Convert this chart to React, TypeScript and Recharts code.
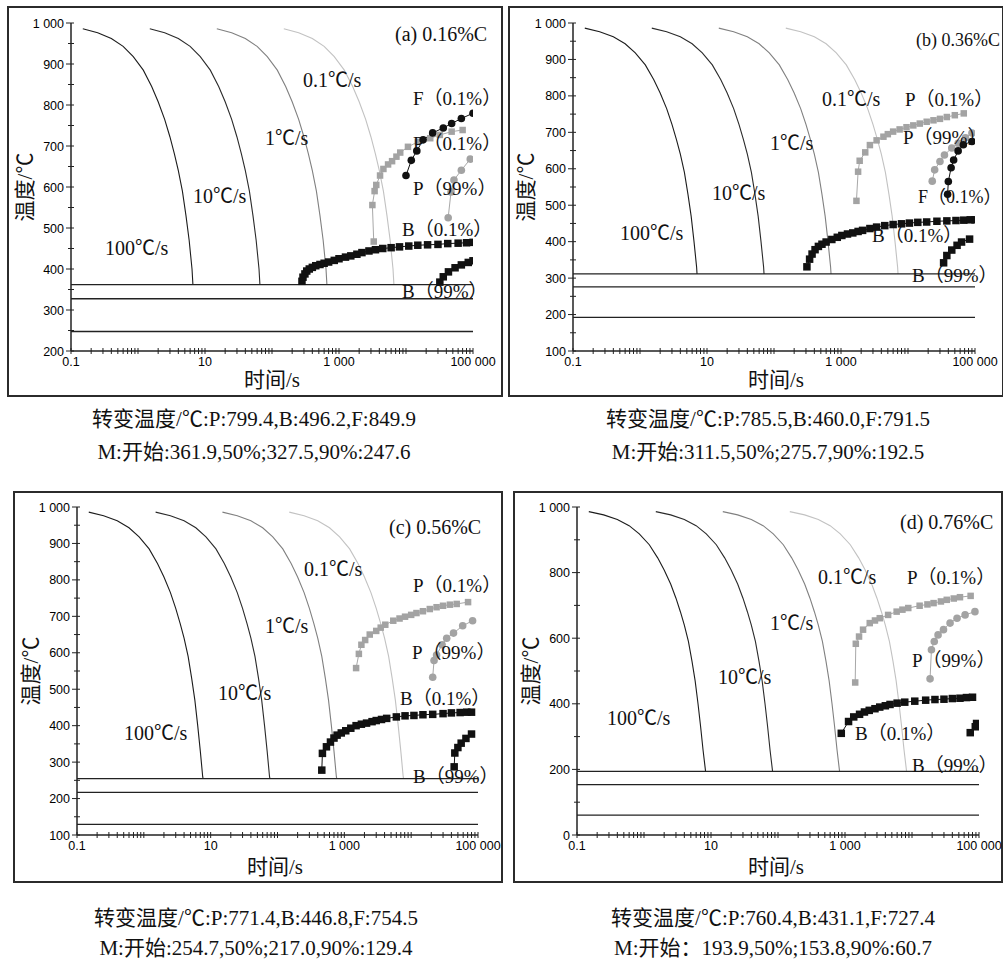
import { ComposedChart, Line, XAxis, YAxis, ReferenceLine } from 'recharts'

// cooling curves, same shape in all four panels (T in °C, t in s)
const COOL_TEMPS = [986, 976, 962, 943, 918, 885, 845, 808, 765, 722, 680, 640, 590, 530, 470, 400, 330, 260, 193]
const COOL_100 = [0.15, 0.25, 0.4, 0.6, 0.85, 1.2, 1.6, 2.0, 2.5, 3.0, 3.5, 4.0, 4.6, 5.2, 5.8, 6.4, 7.0, 7.6, 8.3]
const COOL_10 = [1.5, 2.5, 4, 6, 8.5, 12, 16, 20, 25, 30, 35, 40, 46, 52, 58, 64, 70, 76, 83]
const COOL_1 = [15, 25, 40, 60, 85, 120, 160, 200, 250, 300, 350, 400, 460, 520, 580, 640, 700, 760, 830]
const COOL_01 = [150, 250, 400, 600, 850, 1200, 1600, 2000, 2500, 3000, 3500, 4000, 4600, 5200, 5800, 6400, 7000, 7600, 8300]
const COOL_COLORS = ['#1c1c1c', '#2a2a2a', '#808080', '#c2c2c2']

const X_MAJOR = [0.1, 10, 1000, 100000]
const X_LABELS = ['0.1', '10', '1 000', '100 000']
const DECADES = [0.1, 1, 10, 100, 1000, 10000]

// (a) 0.16%C
const A_MS = [361.9, 327.5, 247.6]
const A_END = [6.6, 66, 660, 6600]
const A_F01_t = [10000, 12000, 14500, 18000, 25000, 36000, 48000, 67000, 100000]
const A_F01_T = [628, 665, 688, 715, 732, 744, 755, 767, 780]
const A_P01_t = [3300, 3150, 3400, 3600, 4100, 4600, 5400, 6200, 7200, 8200, 10700, 15000, 23000, 32000, 48000, 70000]
const A_P01_T = [467, 556, 590, 605, 628, 644, 655, 663, 674, 684, 698, 710, 719, 727, 735, 739]
const A_P99_t = [42600, 47000, 52000, 67000, 91000]
const A_P99_T = [525, 588, 617, 641, 668]
const A_B01_t = [280, 290, 310, 330, 360, 400, 450, 520, 600, 700, 850, 1000, 1250, 1500, 1850, 2200, 2800, 3500, 4500, 6000, 8000, 11000, 15000, 21000, 30000, 42000, 60000, 80000, 100000]
const A_B01_T = [370, 380, 388, 395, 400, 404, 408, 411, 414, 417, 421, 425, 429, 432, 436, 440, 444, 447, 450, 452, 454, 456, 458, 459, 460, 462, 463, 464, 465]
const A_B99_t = [32000, 36000, 43000, 54000, 67000, 85000, 100000]
const A_B99_T = [368, 381, 393, 403, 410, 416, 420]

// (b) 0.36%C
const B_MS = [311.5, 275.7, 192.5]
const B_END = [7.1, 71, 710, 7100]
const B_F01_t = [39000, 40000, 44000, 48000, 56000, 67000, 90000]
const B_F01_T = [530, 565, 603, 624, 649, 666, 675]
const B_P01_t = [1700, 1800, 1900, 2300, 2700, 3400, 4300, 5000, 6000, 7500, 9500, 12000, 15000, 19000, 24000, 30000, 38000, 50000, 68000]
const B_P01_T = [512, 592, 622, 645, 665, 678, 688, 695, 702, 708, 714, 719, 724, 729, 733, 737, 742, 747, 752]
const B_P99_t = [23000, 25000, 30000, 35000, 45000, 56000, 72000, 90000]
const B_P99_T = [566, 597, 620, 638, 657, 670, 685, 698]
const B_B01_t = [310, 340, 370, 410, 460, 520, 600, 730, 880, 1030, 1250, 1500, 1800, 2100, 2700, 3400, 4500, 6000, 8000, 10500, 14000, 19000, 27000, 38000, 52000, 68000, 85000, 100000]
const B_B01_T = [331, 352, 366, 378, 387, 393, 399, 406, 412, 417, 421, 424, 428, 431, 436, 440, 444, 447, 449, 451, 453, 454, 456, 457, 458, 459, 460, 460]
const B_B99_t = [34000, 38000, 45000, 54000, 63000, 83000]
const B_B99_T = [342, 362, 377, 390, 399, 407]

// (c) 0.56%C
const C_MS = [254.7, 217.0, 129.4]
const C_END = [7.7, 77, 770, 7700]
const C_P01_t = [1500, 1650, 1800, 2050, 2400, 3000, 3500, 4100, 5400, 6700, 8100, 10000, 12000, 15000, 19000, 24000, 30000, 38000, 48000, 71000]
const C_P01_T = [558, 597, 622, 635, 650, 660, 669, 677, 688, 694, 699, 704, 709, 714, 720, 725, 729, 732, 734, 739]
const C_P99_t = [21000, 22000, 24000, 29000, 34000, 43000, 59000, 83000]
const C_P99_T = [533, 579, 594, 622, 640, 654, 674, 688]
const C_B01_t = [460, 470, 540, 620, 700, 780, 900, 1050, 1250, 1500, 1800, 2150, 2600, 3000, 3600, 4300, 6000, 8100, 11000, 15000, 21000, 30000, 40000, 54000, 68000, 80000]
const C_B01_T = [278, 324, 342, 355, 366, 374, 380, 386, 393, 400, 404, 407, 411, 414, 417, 420, 424, 427, 428, 430, 431, 433, 435, 436, 437, 437]
const C_B99_t = [44000, 45000, 50000, 56000, 66000, 80000]
const C_B99_T = [287, 325, 340, 352, 365, 377]

// (d) 0.76%C
const D_MS = [193.9, 153.8, 60.7]
const D_END = [8.3, 83, 830, 8300]
const D_P01_t = [1420, 1450, 1620, 1860, 2340, 2800, 3300, 4400, 5900, 7200, 8800, 13000, 17000, 21000, 27000, 33000, 42000, 52000, 75000]
const D_P01_T = [465, 583, 605, 626, 646, 654, 661, 671, 681, 687, 692, 699, 703, 707, 712, 717, 721, 725, 729]
const D_P99_t = [18600, 19500, 21500, 24500, 29500, 37000, 47000, 62000, 87000]
const D_P99_T = [476, 565, 590, 610, 626, 646, 661, 671, 681]
const D_B01_t = [880, 1130, 1350, 1650, 1950, 2300, 2800, 3300, 4000, 4700, 6000, 7800, 11000, 16000, 22000, 30000, 40000, 52000, 65000, 80000]
const D_B01_T = [310, 346, 360, 368, 375, 380, 385, 390, 394, 398, 402, 405, 408, 411, 413, 414, 416, 417, 419, 420]
const D_B99_t = [74000, 88000, 92000]
const D_B99_T = [312, 330, 340]

type Pt = { t: number; T: number }
const zip = (ts: number[], Ts: number[]): Pt[] => ts.map((t, i) => ({ t, T: Ts[i] }))

const coolCurve = (times: number[], ms: number, end: number): Pt[] => [
  ...zip(times, COOL_TEMPS).filter((p) => p.T > ms),
  { t: end, T: ms },
]

type Kind = 'blackSq' | 'graySq' | 'blackCi' | 'grayCi'
interface Series { kind: Kind; data: Pt[] }
interface Lbl { x: number; y: number; text: string; size?: number }
interface PanelCfg {
  frame: { l: number; t: number; w: number; h: number }
  plot: { x0: number; x1: number; y0: number; y1: number }
  yDomain: [number, number]
  yStep: number
  yLabelStep: number
  ms: number[]
  end: number[]
  series: Series[]
  labels: Lbl[]
  caption: [string, string]
  capX: number
  capY: [number, number]
}

const SquareDot = (props: any) => {
  const { cx, cy, fill, size } = props
  if (cx == null || cy == null) return null
  return <rect x={cx - size / 2} y={cy - size / 2} width={size} height={size} fill={fill} />
}
const CircleDot = (props: any) => {
  const { cx, cy, fill, r } = props
  if (cx == null || cy == null) return null
  return <circle cx={cx} cy={cy} r={r} fill={fill} />
}

const KIND_STYLE: Record<Kind, { stroke: string; dot: any }> = {
  blackSq: { stroke: '#111', dot: <SquareDot fill="#111" size={7.5} /> },
  graySq: { stroke: '#a8a8a8', dot: <SquareDot fill="#a3a3a3" size={6.5} /> },
  blackCi: { stroke: '#111', dot: <CircleDot fill="#111" r={3.8} /> },
  grayCi: { stroke: '#a8a8a8', dot: <CircleDot fill="#a3a3a3" r={3.8} /> },
}

const TICK_FONT = '"Liberation Sans", Arial, sans-serif'

const XTick = (props: any) => {
  const { x, y, payload } = props
  const i = X_MAJOR.indexOf(payload.value)
  return (
    <g>
      <line x1={x} x2={x} y1={y - 3} y2={y + 3} stroke="#222" strokeWidth={1} />
      {i >= 0 && (
        <text x={x} y={y + 15} textAnchor="middle" fontSize={12.5} fill="#000" fontFamily={TICK_FONT}>
          {X_LABELS[i]}
        </text>
      )}
    </g>
  )
}

const makeYTick = (labelStep: number) => (props: any) => {
  const { x, y, payload } = props
  const v = payload.value as number
  const major = v % labelStep === 0
  return (
    <g>
      <line x1={x - (major ? 5 : 3)} x2={x + 3} y1={y} y2={y} stroke="#222" strokeWidth={1} />
      {major && (
        <text x={x - 7} y={y + 4.5} textAnchor="end" fontSize={12.5} fill="#000" fontFamily={TICK_FONT}>
          {v === 1000 ? '1 000' : String(v)}
        </text>
      )}
    </g>
  )
}

const xTicks = [...DECADES.flatMap((d) => [2, 3, 4, 5, 6, 7, 8, 9].map((m) => d * m)), ...DECADES, 100000]

const RATE = 20
const PHASE = 19

const PANELS: PanelCfg[] = [
  {
    frame: { l: 7, t: 6, w: 496, h: 391 },
    plot: { x0: 71, x1: 473, y0: 23, y1: 351 },
    yDomain: [200, 1000], yStep: 50, yLabelStep: 100,
    ms: A_MS, end: A_END,
    series: [
      { kind: 'graySq', data: zip(A_P01_t, A_P01_T) },
      { kind: 'grayCi', data: zip(A_P99_t, A_P99_T) },
      { kind: 'blackCi', data: zip(A_F01_t, A_F01_T) },
      { kind: 'blackSq', data: zip(A_B01_t, A_B01_T) },
      { kind: 'blackSq', data: zip(A_B99_t, A_B99_T) },
    ],
    labels: [
      { x: 395, y: 34, text: '(a) 0.16%C', size: 20 },
      { x: 303, y: 80, text: '0.1℃/s', size: RATE },
      { x: 265, y: 138, text: '1℃/s', size: RATE },
      { x: 193, y: 196, text: '10℃/s', size: RATE },
      { x: 105, y: 248, text: '100℃/s', size: RATE },
      { x: 413, y: 98, text: 'F（0.1%）' },
      { x: 413, y: 143, text: 'P（0.1%）' },
      { x: 413, y: 188, text: 'P（99%）' },
      { x: 402, y: 229, text: 'B（0.1%）' },
      { x: 402, y: 291, text: 'B（99%）' },
      { x: 244, y: 380, text: '时间/s', size: 21 },
    ],
    caption: ['转变温度/℃:P:799.4,B:496.2,F:849.9', 'M:开始:361.9,50%;327.5,90%:247.6'],
    capX: 254, capY: [419, 452],
  },
  {
    frame: { l: 508, t: 6, w: 496, h: 391 },
    plot: { x0: 573, x1: 975, y0: 23, y1: 351 },
    yDomain: [100, 1000], yStep: 50, yLabelStep: 100,
    ms: B_MS, end: B_END,
    series: [
      { kind: 'graySq', data: zip(B_P01_t, B_P01_T) },
      { kind: 'grayCi', data: zip(B_P99_t, B_P99_T) },
      { kind: 'blackCi', data: zip(B_F01_t, B_F01_T) },
      { kind: 'blackSq', data: zip(B_B01_t, B_B01_T) },
      { kind: 'blackSq', data: zip(B_B99_t, B_B99_T) },
    ],
    labels: [
      { x: 916, y: 40, text: '(b) 0.36%C', size: 18 },
      { x: 822, y: 99, text: '0.1℃/s', size: RATE },
      { x: 905, y: 99, text: 'P（0.1%）' },
      { x: 770, y: 143, text: '1℃/s', size: RATE },
      { x: 903, y: 137, text: 'P（99%）' },
      { x: 712, y: 193, text: '10℃/s', size: RATE },
      { x: 918, y: 197, text: 'F（0.1%）', size: 18 },
      { x: 620, y: 233, text: '100℃/s', size: RATE },
      { x: 872, y: 235, text: 'B（0.1%）' },
      { x: 912, y: 275, text: 'B（99%）' },
      { x: 748, y: 380, text: '时间/s', size: 21 },
    ],
    caption: ['转变温度/℃:P:785.5,B:460.0,F:791.5', 'M:开始:311.5,50%;275.7,90%:192.5'],
    capX: 768, capY: [419, 452],
  },
  {
    frame: { l: 13, t: 491, w: 490, h: 392 },
    plot: { x0: 77, x1: 478, y0: 507, y1: 835 },
    yDomain: [100, 1000], yStep: 50, yLabelStep: 100,
    ms: C_MS, end: C_END,
    series: [
      { kind: 'graySq', data: zip(C_P01_t, C_P01_T) },
      { kind: 'grayCi', data: zip(C_P99_t, C_P99_T) },
      { kind: 'blackSq', data: zip(C_B01_t, C_B01_T) },
      { kind: 'blackSq', data: zip(C_B99_t, C_B99_T) },
    ],
    labels: [
      { x: 389, y: 527, text: '(c) 0.56%C', size: 20 },
      { x: 304, y: 569, text: '0.1℃/s', size: RATE },
      { x: 413, y: 585, text: 'P（0.1%）' },
      { x: 265, y: 626, text: '1℃/s', size: RATE },
      { x: 412, y: 652, text: 'P（99%）' },
      { x: 218, y: 693, text: '10℃/s', size: RATE },
      { x: 400, y: 698, text: 'B（0.1%）' },
      { x: 124, y: 733, text: '100℃/s', size: RATE },
      { x: 413, y: 776, text: 'B（99%）' },
      { x: 247, y: 867, text: '时间/s', size: 21 },
    ],
    caption: ['转变温度/℃:P:771.4,B:446.8,F:754.5', 'M:开始:254.7,50%;217.0,90%:129.4'],
    capX: 256, capY: [918, 948],
  },
  {
    frame: { l: 513, t: 491, w: 490, h: 392 },
    plot: { x0: 577, x1: 979, y0: 507, y1: 835 },
    yDomain: [0, 1000], yStep: 100, yLabelStep: 200,
    ms: D_MS, end: D_END,
    series: [
      { kind: 'graySq', data: zip(D_P01_t, D_P01_T) },
      { kind: 'grayCi', data: zip(D_P99_t, D_P99_T) },
      { kind: 'blackSq', data: zip(D_B01_t, D_B01_T) },
      { kind: 'blackSq', data: zip(D_B99_t, D_B99_T) },
    ],
    labels: [
      { x: 900, y: 522, text: '(d) 0.76%C', size: 20 },
      { x: 818, y: 577, text: '0.1℃/s', size: RATE },
      { x: 907, y: 577, text: 'P（0.1%）' },
      { x: 770, y: 623, text: '1℃/s', size: RATE },
      { x: 912, y: 660, text: 'P（99%）' },
      { x: 718, y: 677, text: '10℃/s', size: RATE },
      { x: 607, y: 718, text: '100℃/s', size: RATE },
      { x: 855, y: 733, text: 'B（0.1%）' },
      { x: 912, y: 765, text: 'B（99%）' },
      { x: 748, y: 867, text: '时间/s', size: 21 },
    ],
    caption: ['转变温度/℃:P:760.4,B:431.1,F:727.4', 'M:开始：193.9,50%;153.8,90%:60.7'],
    capX: 773, capY: [918, 948],
  },
]

const Y_AXIS_W = 40
const X_AXIS_H = 20

function Panel({ cfg }: { cfg: PanelCfg }) {
  const { frame, plot } = cfg
  const margin = {
    top: plot.y0 - frame.t,
    bottom: frame.t + frame.h - plot.y1 - X_AXIS_H,
    left: plot.x0 - frame.l - Y_AXIS_W,
    right: frame.l + frame.w - plot.x1,
  }
  const yTicks: number[] = []
  for (let v = cfg.yDomain[0]; v <= cfg.yDomain[1]; v += cfg.yStep) yTicks.push(v)
  const curves = [COOL_100, COOL_10, COOL_1, COOL_01].map((times, i) => coolCurve(times, cfg.ms[0], cfg.end[i]))
  const midY = (plot.y0 + plot.y1) / 2
  return (
    <>
      <div
        style={{
          position: 'absolute', left: frame.l, top: frame.t, width: frame.w, height: frame.h,
          border: '2px solid #2b2b2b', boxSizing: 'border-box',
        }}
      />
      <div style={{ position: 'absolute', left: frame.l, top: frame.t }}>
        <ComposedChart width={frame.w} height={frame.h} margin={margin}>
          <XAxis
            dataKey="t" type="number" scale="log" domain={[0.1, 100000]} allowDataOverflow
            ticks={xTicks} interval={0} tick={<XTick />} tickLine={false} tickSize={0} tickMargin={0}
            height={X_AXIS_H} axisLine={{ stroke: '#222', strokeWidth: 1.5 }}
          />
          <YAxis
            dataKey="T" type="number" domain={cfg.yDomain} allowDataOverflow
            ticks={yTicks} interval={0} tick={makeYTick(cfg.yLabelStep)} tickLine={false} tickSize={0} tickMargin={0}
            width={Y_AXIS_W} axisLine={{ stroke: '#222', strokeWidth: 1.5 }}
          />
          {curves.map((c, i) => (
            <Line
              key={'cool' + i} data={c} dataKey="T" type="linear" stroke={COOL_COLORS[i]} strokeWidth={1.1}
              dot={false} activeDot={false} isAnimationActive={false}
            />
          ))}
          {cfg.ms.map((m) => (
            <ReferenceLine key={m} y={m} stroke="#222" strokeWidth={1.3} />
          ))}
          {cfg.series.map((s, i) => (
            <Line
              key={'s' + i} data={s.data} dataKey="T" type="linear" stroke={KIND_STYLE[s.kind].stroke} strokeWidth={1}
              dot={KIND_STYLE[s.kind].dot} activeDot={false} isAnimationActive={false}
            />
          ))}
        </ComposedChart>
      </div>
      {cfg.labels.map((l, i) => (
        <div
          key={i}
          style={{
            position: 'absolute', left: l.x, top: l.y, transform: 'translateY(-50%)',
            fontSize: l.size ?? PHASE, lineHeight: 1, whiteSpace: 'nowrap', color: '#111',
          }}
        >
          {l.text}
        </div>
      ))}
      <div
        style={{
          position: 'absolute', left: frame.l + 18, top: midY, transform: 'translate(-50%, -50%) rotate(-90deg)',
          fontSize: 21, lineHeight: 1, whiteSpace: 'nowrap', color: '#111',
        }}
      >
        温度/℃
      </div>
      {cfg.caption.map((c, i) => (
        <div
          key={'cap' + i}
          style={{
            position: 'absolute', left: cfg.capX, top: cfg.capY[i], transform: 'translate(-50%, -50%)',
            fontSize: 21, lineHeight: 1, whiteSpace: 'nowrap', color: '#111',
          }}
        >
          {c}
        </div>
      ))}
    </>
  )
}

export default function App() {
  return (
    <div
      style={{
        position: 'absolute', left: 0, top: 0, width: 1003, height: 963, background: '#fff', overflow: 'hidden',
        fontFamily: '"Liberation Serif", "Noto Sans CJK SC", serif',
      }}
    >
      {PANELS.map((p, i) => (
        <Panel key={i} cfg={p} />
      ))}
    </div>
  )
}
